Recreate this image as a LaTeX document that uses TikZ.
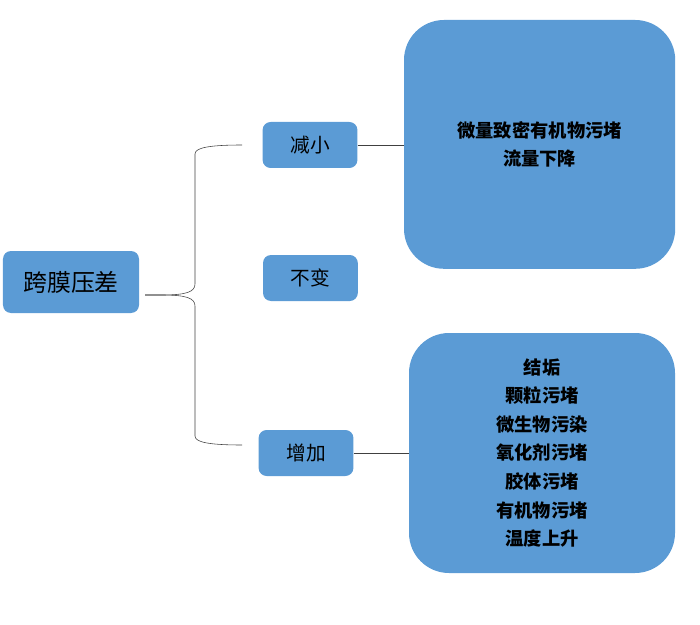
\documentclass[tikz,border=0pt]{standalone}
\usepackage{fontspec}
\usepackage{xcolor}
\usepackage{tikz}
\usetikzlibrary{positioning, calc}
\newfontfamily\cjk{Noto Sans CJK SC}
\definecolor{boxblue}{HTML}{5B9BD5}

\begin{document}
\begin{tikzpicture}[
    topic/.style={rectangle, rounded corners=0.2cm, fill=boxblue, minimum width=3.4cm, minimum height=1.55cm, align=center, font=\cjk\fontsize{17}{20}\selectfont},
    change/.style={rectangle, rounded corners=0.2cm, fill=boxblue, minimum width=2.37cm, minimum height=1.15cm, align=center, font=\cjk\fontsize{14}{17}\selectfont},
    cause/.style={rectangle, rounded corners=1cm, fill=boxblue, align=center, font=\cjk\bfseries\fontsize{13}{20.3}\selectfont},
    link/.style={draw=black!75, thin}
]
\useasboundingbox (0,0) rectangle (17.5,-15.625);

% Topic and changes
\node[topic] (tmp) at (1.775,-7.05) {跨膜压差};
\node[change] (dec) at (7.75,-3.625) {减小};
\node[change] (same) at (7.76,-6.95) {不变};
\node[change] (inc) at (7.65,-11.325) {增加};

% Causes
\node[cause, minimum width=6.78cm, minimum height=6.22cm] (fall) at (13.49,-3.61) {微量致密有机物污堵\\流量下降};
\node[cause, minimum width=6.65cm, minimum height=6cm] (rise) at (13.55,-11.325) {结垢\\颗粒污堵\\微生物污染\\氧化剂污堵\\胶体污堵\\有机物污堵\\温度上升};

% Brace
\coordinate (bm) at (3.625,-7.375);
\coordinate (bt) at (6.05,-3.625);
\coordinate (bb) at (6.05,-11.125);
\draw[link] (bm) -- (4.05,-7.375) .. controls (4.65,-7.375) and (4.875,-7.3) .. (4.875,-7.1)
    -- (4.875,-3.85) .. controls (4.875,-3.7) and (5.2,-3.625) .. (bt);
\draw[link] (bm) -- (4.05,-7.375) .. controls (4.65,-7.375) and (4.875,-7.45) .. (4.875,-7.65)
    -- (4.875,-10.9) .. controls (4.875,-11.05) and (5.2,-11.125) .. (bb);

% Connections
\draw[link] (dec.east) -- (dec.east -| fall.west);
\draw[link] (inc.east) -- (inc.east -| rise.west);
\end{tikzpicture}
\end{document}
